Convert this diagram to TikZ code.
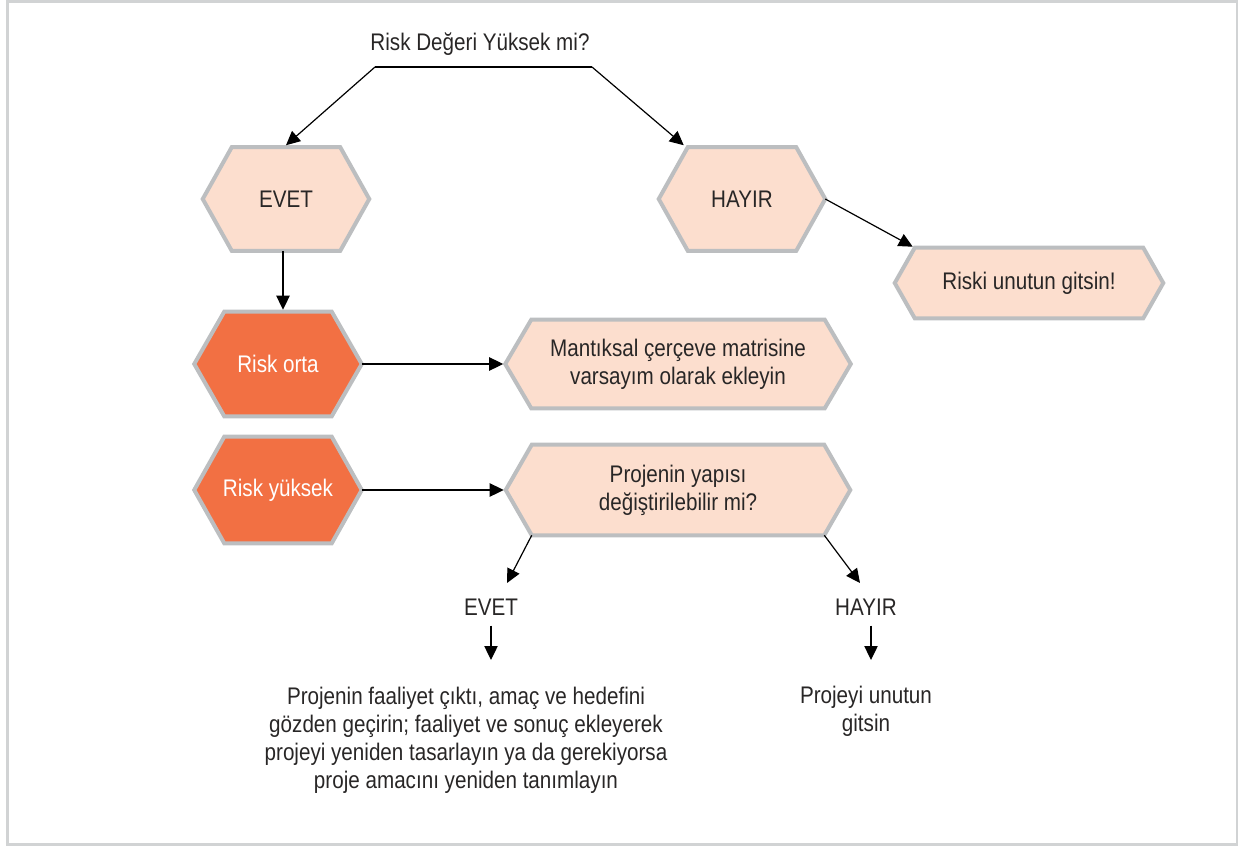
\documentclass[tikz,border=0pt]{standalone}
\usepackage{fontspec}
\setmainfont[FakeStretch=0.86]{Liberation Sans}
\usetikzlibrary{arrows.meta,calc,backgrounds}
\definecolor{hexfill}{RGB}{252,222,206}
\definecolor{hexorange}{RGB}{242,112,67}
\definecolor{hexgray}{RGB}{188,190,192}
\definecolor{framegray}{RGB}{209,211,212}
\definecolor{txt}{RGB}{40,38,38}
\newcommand{\hexdraw}[3]{%
  \begin{pgfonlayer}{background}
  \draw[hexline,fill=#3] (#1.west) -- ($(#1.north west)+(#2,0)$) -- ($(#1.north east)+(-#2,0)$) -- (#1.east) -- ($(#1.south east)+(-#2,0)$) -- ($(#1.south west)+(#2,0)$) -- cycle;
  \end{pgfonlayer}}
\begin{document}
\begin{tikzpicture}[x=0.75pt,y=-0.75pt,
  every node/.style={font=\fontsize{18pt}{21pt}\selectfont,text=txt},
  hexbox/.style={draw=none,inner sep=0pt,align=center},
  hexline/.style={draw=hexgray,line width=3pt,line join=miter},
  arr/.style={-{Triangle[length=10.5pt,width=10pt]},line width=0.9pt,black},
  plain/.style={line width=0.9pt,black},
  lbl/.style={inner sep=0pt,align=center}]
\useasboundingbox (0,0) rectangle (1244,849);
\draw[framegray,line width=2pt] (7.5,1.5) rectangle (1237,844.5);

\node[lbl] (title) at (480,44) {Risk Değeri Yüksek mi?};
\coordinate (tl) at (375,67);
\coordinate (tr) at (592,67);

\node[hexbox,minimum width={166*0.75pt},minimum height={103*0.75pt}] (evet) at (286,199) {EVET};
\hexdraw{evet}{29}{hexfill}
\node[hexbox,minimum width={166*0.75pt},minimum height={103*0.75pt}] (hayir) at (742,199) {HAYIR};
\hexdraw{hayir}{29}{hexfill}
\node[hexbox,minimum width={268*0.75pt},minimum height={70*0.75pt}] (riski) at (1029,283) {Riski unutun gitsin!};
\hexdraw{riski}{20}{hexfill}
\node[hexbox,minimum width={167*0.75pt},minimum height={104*0.75pt},text=white] (orta) at (278,364) {Risk orta};
\hexdraw{orta}{30}{hexorange}
\node[hexbox,minimum width={345*0.75pt},minimum height={88*0.75pt}] (mant) at (678,364) {Mantıksal çerçeve matrisine\\varsayım olarak ekleyin};
\hexdraw{mant}{26}{hexfill}
\node[hexbox,minimum width={167*0.75pt},minimum height={106*0.75pt},text=white] (yuksek) at (278,490) {Risk yüksek};
\hexdraw{yuksek}{30}{hexorange}
\node[hexbox,minimum width={344*0.75pt},minimum height={90*0.75pt}] (proj) at (678,490) {Projenin yapısı\\değiştirilebilir mi?};
\hexdraw{proj}{26}{hexfill}

\node[lbl] (evet2) at (491,607) {EVET};
\node[lbl] (hayir2) at (866,607) {HAYIR};
\node[lbl,anchor=north] (revise) at (466,687) {Projenin faaliyet çıktı, amaç ve hedefini\\gözden geçirin; faaliyet ve sonuç ekleyerek\\projeyi yeniden tasarlayın ya da gerekiyorsa\\proje amacını yeniden tanımlayın};
\node[lbl,anchor=north] (forget) at (866,686) {Projeyi unutun\\gitsin};

\coordinate (e2tip) at (507,583);
\coordinate (h2tip) at (860,583);
\coordinate (e3tip) at (491,660);
\coordinate (h3tip) at (871,660);

\draw[plain] (tl) -- (tr);
\draw[arr] (tl) -- ([yshift=1.5pt]evet.north);
\draw[arr] (tr) -- ($(hayir.north west)+(25,-2)$);
\draw[arr] (hayir.east) -- ($(riski.north west)+(18,-1)$);
\draw[arr] ($(evet.south)+(-3,0)$) -- ($(orta.north)+(5,-2)$);
\draw[arr] (orta.east) -- ([xshift=-1.5pt]mant.west);
\draw[arr] (yuksek.east) -- ([xshift=-1.5pt]proj.west);
\draw[arr] ($(proj.south west)+(26,0)$) -- (e2tip);
\draw[arr] ($(proj.south east)+(-26,0)$) -- (h2tip);
\draw[arr,shorten <=7.5pt] (evet2.south) -- (e3tip);
\draw[arr,shorten <=7.5pt] (h3tip |- hayir2.south) -- (h3tip);
\end{tikzpicture}
\end{document}
